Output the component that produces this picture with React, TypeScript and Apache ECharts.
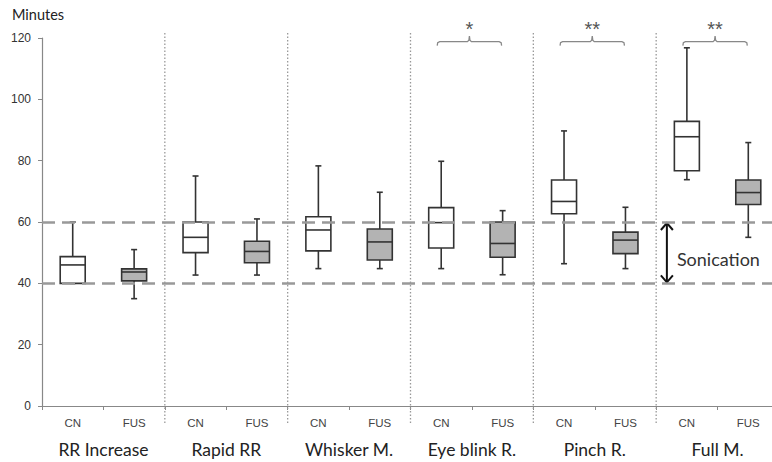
import React, { useEffect, useRef } from 'react';
import * as echarts from 'echarts';

const subLabels = ['CN', 'FUS', 'CN', 'FUS', 'CN', 'FUS', 'CN', 'FUS', 'CN', 'FUS', 'CN', 'FUS'];
const groupLabels = ['RR Increase', 'Rapid RR', 'Whisker M.', 'Eye blink R.', 'Pinch R.', 'Full M.'];
const yMin = 0;
const yMax = 120;
const yInterval = 20;

// [low whisker, Q1, median, Q3, high whisker]
const cnStats = [
  [40, 40, 46, 48.7, 60],
  [42.7, 50, 55, 60, 75],
  [44.8, 50.6, 57.4, 61.7, 78.3],
  [44.8, 51.5, 59.8, 64.7, 79.8],
  [46.4, 62.7, 66.7, 73.7, 89.7],
  [73.8, 76.7, 87.8, 92.8, 116.8],
];
const fusStats = [
  [35, 40.8, 43.7, 44.7, 51],
  [42.7, 46.7, 50.4, 53.7, 61],
  [44.8, 47.6, 53.5, 57.7, 69.7],
  [42.8, 48.5, 53, 60, 63.7],
  [44.8, 49.7, 54.1, 56.7, 64.8],
  [55, 65.7, 69.6, 73.7, 85.9],
];
const sonicationRange = [40, 60];
const significance = [
  { group: 3, mark: '*' },
  { group: 4, mark: '**' },
  { group: 5, mark: '**' },
];
const bracketLevel = 118.8;
const sonicationGroup = 5;

const makeBoxRender = (fill: string) => (params: any, api: any) => {
  const x = api.value(0);
  const pLo = api.coord([x, api.value(1)]);
  const pQ1 = api.coord([x, api.value(2)]);
  const pMed = api.coord([x, api.value(3)]);
  const pQ3 = api.coord([x, api.value(4)]);
  const pHi = api.coord([x, api.value(5)]);
  const cx = pLo[0];
  const hw = 12.5;
  const cw = 3;
  const st = { stroke: '#333', lineWidth: 1.6, fill: 'none' };
  return {
    type: 'group',
    children: [
      { type: 'line', shape: { x1: cx, y1: pHi[1], x2: cx, y2: pQ3[1] }, style: st },
      { type: 'line', shape: { x1: cx, y1: pQ1[1], x2: cx, y2: pLo[1] }, style: st },
      { type: 'line', shape: { x1: cx - cw, y1: pHi[1], x2: cx + cw, y2: pHi[1] }, style: st },
      { type: 'line', shape: { x1: cx - cw, y1: pLo[1], x2: cx + cw, y2: pLo[1] }, style: st },
      {
        type: 'rect',
        shape: { x: cx - hw, y: pQ3[1], width: 2 * hw, height: pQ1[1] - pQ3[1] },
        style: { fill, stroke: '#333', lineWidth: 1.6 },
      },
      { type: 'line', shape: { x1: cx - hw, y1: pMed[1], x2: cx + hw, y2: pMed[1] }, style: st },
    ],
  };
};

export default function App() {
  const ref = useRef<HTMLDivElement>(null);
  useEffect(() => {
    if (!ref.current) return;
    const chart = echarts.init(ref.current, null, { renderer: 'svg' });

    const dividerData = [2, 4, 6, 8, 10].map((b) => [b, 0]);

    const option: any = {
      animation: false,
      backgroundColor: '#ffffff',
      grid: { left: 42, width: 737, top: 38, height: 368, containLabel: false, outerBoundsMode: 'none' },
      graphic: [
        {
          type: 'text',
          left: 12,
          top: 7,
          style: { text: 'Minutes', fontSize: 14.5, fontFamily: 'Lato', fill: '#222' },
        },
      ],
      xAxis: [
        {
          type: 'category',
          data: subLabels,
          boundaryGap: true,
          axisLine: { lineStyle: { color: '#888', width: 1.2 } },
          axisTick: { show: true, length: 4, lineStyle: { color: '#888' } },
          axisLabel: { fontSize: 11.5, color: '#444', margin: 11, fontFamily: 'Liberation Sans' },
          splitLine: { show: false },
        },
        {
          type: 'category',
          data: groupLabels,
          position: 'bottom',
          boundaryGap: true,
          axisLine: { show: false },
          axisTick: { show: false },
          axisLabel: { fontSize: 17.5, color: '#222', margin: 34, fontFamily: 'Lato' },
          splitLine: { show: false },
        },
      ],
      yAxis: {
        type: 'value',
        min: yMin,
        max: yMax,
        interval: yInterval,
        axisLine: { show: true, lineStyle: { color: '#888', width: 1.2 } },
        axisTick: { show: true, length: 4, lineStyle: { color: '#888' } },
        axisLabel: { fontSize: 12, color: '#333', margin: 11, fontFamily: 'Liberation Sans' },
        splitLine: { show: false },
      },
      series: [
        {
          type: 'custom',
          name: 'dividers',
          clip: false,
          z: 1,
          data: dividerData,
          encode: { x: 0, y: 1 },
          renderItem: (params: any, api: any) => {
            const b = api.value(0);
            const a = api.coord([b - 1, yMax]);
            const c = api.coord([b, yMin]);
            const x = (a[0] + c[0]) / 2;
            return {
              type: 'line',
              shape: { x1: x, y1: a[1] - 5, x2: x, y2: c[1] + 19 },
              style: { stroke: '#999', lineWidth: 1.3, lineDash: [1.5, 2] },
            };
          },
        },
        {
          type: 'line',
          name: 'sonication',
          data: [],
          z: 2,
          markLine: {
            silent: true,
            symbol: ['none', 'none'],
            label: { show: false },
            lineStyle: { color: '#999', width: 2.6, type: [13, 7] },
            data: sonicationRange.map((v) => ({ yAxis: v })),
          },
        },
        {
          type: 'custom',
          name: 'CN',
          z: 3,
          data: cnStats.map((s, i) => [2 * i, ...s]),
          encode: { x: 0, y: [1, 2, 3, 4, 5] },
          renderItem: makeBoxRender('#ffffff'),
        },
        {
          type: 'custom',
          name: 'FUS',
          z: 3,
          data: fusStats.map((s, i) => [2 * i + 1, ...s]),
          encode: { x: 0, y: [1, 2, 3, 4, 5] },
          renderItem: makeBoxRender('#b3b3b3'),
        },
        {
          type: 'custom',
          name: 'significance',
          clip: false,
          z: 4,
          data: significance.map((s) => [2 * s.group, bracketLevel, s.mark]),
          encode: { x: 0, y: 1 },
          renderItem: (params: any, api: any) => {
            const g = api.value(0);
            const mark = significance[params.dataIndex].mark;
            const p1 = api.coord([g, bracketLevel]);
            const p2 = api.coord([g + 1, bracketLevel]);
            const x1 = p1[0] - 4;
            const x2 = p2[0] - 1;
            const y = p1[1];
            const xm = (x1 + x2) / 2;
            const st = { stroke: '#888', lineWidth: 1.3, fill: 'none' };
            return {
              type: 'group',
              children: [
                {
                  type: 'polyline',
                  shape: {
                    points: [
                      [x1, y + 4],
                      [x1 + 0.5, y + 1],
                      [x1 + 2.5, y],
                      [xm - 2, y],
                      [xm - 0.5, y - 1.5],
                      [xm, y - 5.5],
                      [xm + 0.5, y - 1.5],
                      [xm + 2, y],
                      [x2 - 2.5, y],
                      [x2 - 0.5, y + 1],
                      [x2, y + 4],
                    ],
                  },
                  style: st,
                },
                {
                  type: 'text',
                  x: xm,
                  y: y - 23,
                  style: {
                    text: mark,
                    fontSize: 20,
                    fontFamily: 'Liberation Sans',
                    fill: '#555',
                    align: 'center',
                    verticalAlign: 'top',
                  },
                },
              ],
            };
          },
        },
        {
          type: 'custom',
          name: 'sonicationArrow',
          clip: false,
          z: 4,
          data: [[2 * sonicationGroup, sonicationRange[0], sonicationRange[1]]],
          encode: { x: 0, y: [1, 2] },
          renderItem: (params: any, api: any) => {
            const g = api.value(0);
            const lo = api.coord([g, api.value(1)]);
            const hi = api.coord([g, api.value(2)]);
            const mid = api.coord([g, (api.value(1) + api.value(2)) / 2]);
            const x = lo[0] - 20;
            const st = { stroke: '#111', lineWidth: 2, fill: 'none' };
            return {
              type: 'group',
              children: [
                { type: 'line', shape: { x1: x, y1: hi[1] + 1, x2: x, y2: lo[1] - 1 }, style: st },
                { type: 'polyline', shape: { points: [[x - 6, hi[1] + 8], [x, hi[1] + 1], [x + 6, hi[1] + 8]] }, style: st },
                { type: 'polyline', shape: { points: [[x - 6, lo[1] - 8], [x, lo[1] - 1], [x + 6, lo[1] - 8]] }, style: st },
                {
                  type: 'text',
                  x: lo[0] - 10,
                  y: mid[1] + 6,
                  style: {
                    text: 'Sonication',
                    fontSize: 18,
                    fontFamily: 'Lato',
                    fill: '#333',
                    align: 'left',
                    verticalAlign: 'middle',
                  },
                },
              ],
            };
          },
        },
      ],
    };
    chart.setOption(option);
    return () => chart.dispose();
  }, []);
  return <div ref={ref} style={{ width: 772, height: 462, position: 'absolute', left: 0, top: 0 }} />;
}
